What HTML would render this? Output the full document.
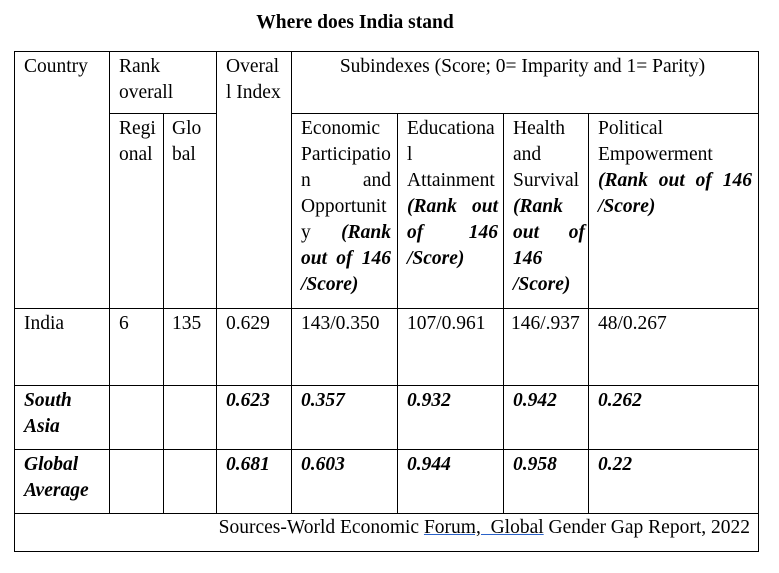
<!DOCTYPE html>
<html><head><meta charset="utf-8"><style>
body{margin:0;width:779px;height:573px;background:#fff;font-family:"Liberation Serif",serif;font-size:19.5px;color:#000;position:relative;overflow:hidden}
#title{position:absolute;left:0;width:710px;text-align:center;top:12px;font-weight:bold;font-size:19.5px}
.c{position:absolute;box-sizing:border-box;border:1px solid #000;margin:-1px 0 0 -1px;padding:2px 5px 0 9px;line-height:26px;white-space:nowrap}
.j{display:flex;justify-content:space-between}
.bi{font-weight:bold;font-style:italic}
u{text-decoration-color:#2a62c9}
</style></head><body>
<div id="title">Where does India stand</div>
<div>
<div class="c" style="left:15px;top:52px;width:96px;height:258px">Country</div>
<div class="c" style="left:110px;top:52px;width:108px;height:63px">Rank<br>overall</div>
<div class="c" style="left:217px;top:52px;width:76px;height:258px">Overal<br>l Index</div>
<div class="c" style="left:292px;top:52px;width:468px;height:63px;text-align:center;padding-left:0">Subindexes (Score; 0= Imparity and 1= Parity)</div>
<div class="c" style="left:110px;top:114px;width:55px;height:196px">Regi<br>onal</div>
<div class="c" style="left:164px;top:114px;width:54px;height:196px;padding-left:8px">Glo<br>bal</div>
<div class="c" style="left:292px;top:114px;width:107px;height:196px;padding-right:6px">Economic<br>Participatio<div class="j"><span>n</span><span>and</span></div>Opportunit<div class="j"><span>y</span><span class="bi">(Rank</span></div><div class="j bi"><span>out</span><span>of</span><span>146</span></div><span class="bi">/Score)</span></div>
<div class="c" style="left:398px;top:114px;width:107px;height:196px;padding-right:5px">Educationa<br>l<br>Attainment<div class="j bi"><span>(Rank</span><span>out</span></div><div class="j bi"><span>of</span><span>146</span></div><span class="bi">/Score)</span></div>
<div class="c" style="left:504px;top:114px;width:86px;height:196px;padding-right:3px">Health<br>and<br>Survival<br><span class="bi">(Rank</span><div class="j bi"><span>out</span><span>of</span></div><span class="bi">146<br>/Score)</span></div>
<div class="c" style="left:589px;top:114px;width:171px;height:196px;padding-right:6px">Political<br>Empowerment<div class="j bi"><span>(Rank</span><span>out</span><span>of</span><span>146</span></div><span class="bi">/Score)</span></div>
<div class="c" style="left:15px;top:309px;width:96px;height:78px">India</div>
<div class="c" style="left:110px;top:309px;width:55px;height:78px">6</div>
<div class="c" style="left:164px;top:309px;width:54px;height:78px;padding-left:8px">135</div>
<div class="c" style="left:217px;top:309px;width:76px;height:78px">0.629</div>
<div class="c" style="left:292px;top:309px;width:107px;height:78px">143/0.350</div>
<div class="c" style="left:398px;top:309px;width:107px;height:78px">107/0.961</div>
<div class="c" style="left:504px;top:309px;width:86px;height:78px;padding-left:7px">146/.937</div>
<div class="c" style="left:589px;top:309px;width:171px;height:78px">48/0.267</div>
<div class="c bi" style="left:15px;top:386px;width:96px;height:65px">South<br>Asia</div>
<div class="c" style="left:110px;top:386px;width:55px;height:65px"></div>
<div class="c" style="left:164px;top:386px;width:54px;height:65px"></div>
<div class="c bi" style="left:217px;top:386px;width:76px;height:65px">0.623</div>
<div class="c bi" style="left:292px;top:386px;width:107px;height:65px">0.357</div>
<div class="c bi" style="left:398px;top:386px;width:107px;height:65px">0.932</div>
<div class="c bi" style="left:504px;top:386px;width:86px;height:65px">0.942</div>
<div class="c bi" style="left:589px;top:386px;width:171px;height:65px">0.262</div>
<div class="c bi" style="left:15px;top:450px;width:96px;height:65px">Global<br>Average</div>
<div class="c" style="left:110px;top:450px;width:55px;height:65px"></div>
<div class="c" style="left:164px;top:450px;width:54px;height:65px"></div>
<div class="c bi" style="left:217px;top:450px;width:76px;height:65px">0.681</div>
<div class="c bi" style="left:292px;top:450px;width:107px;height:65px">0.603</div>
<div class="c bi" style="left:398px;top:450px;width:107px;height:65px">0.944</div>
<div class="c bi" style="left:504px;top:450px;width:86px;height:65px">0.958</div>
<div class="c bi" style="left:589px;top:450px;width:171px;height:65px">0.22</div>
<div class="c" style="left:15px;top:514px;width:745px;height:39px;text-align:right;padding:1px 8px 0 0">Sources-World Economic <u>Forum,&nbsp; Global</u> Gender Gap Report, 2022</div>
</div>
</body></html>
